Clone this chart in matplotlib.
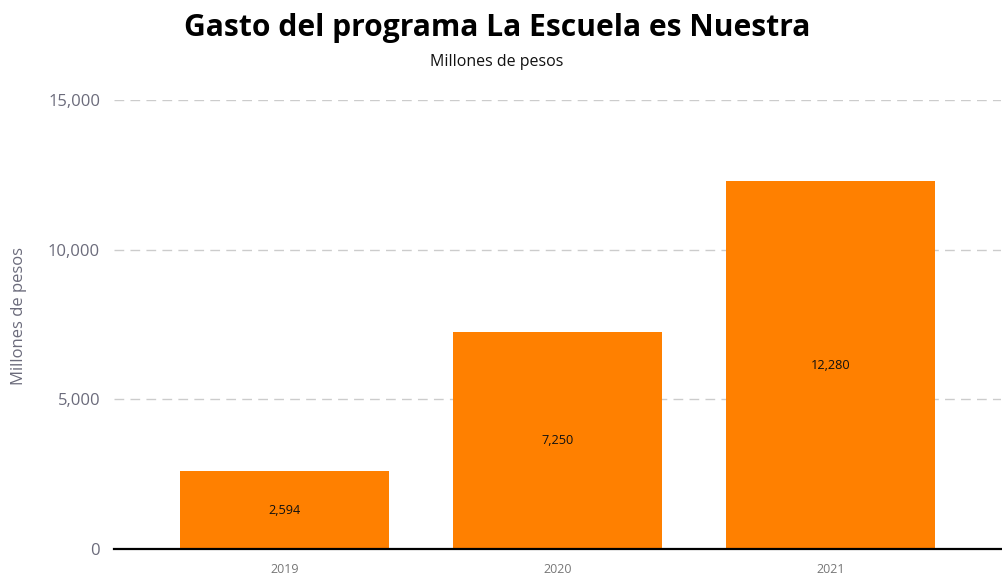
import matplotlib
matplotlib.use("Agg")
import matplotlib.pyplot as plt
from matplotlib.ticker import FuncFormatter

plt.rcParams["font.family"] = ["Open Sans", "DejaVu Sans"]

# ---------------------- Data ---------------------------
years = ["2019", "2020", "2021"]
gasto = [2594, 7250, 12280]
y_ticks = [0, 5000, 10000, 15000]

# ---------------------- Figure ---------------------------
fig = plt.figure(figsize=(10.02, 5.76), dpi=100)
ax = fig.add_axes([0.1138, 0.0469, 0.885, 0.7795])

x = range(len(years))
bars = ax.bar(x, gasto, width=0.765, color="#FF8000", zorder=2)

for xi, v in zip(x, gasto):
    ax.text(xi, v / 2, f"{v:,}", ha="center", va="center", fontsize=9.2, color="#111111")

ax.set_xlim(-0.624, 2.622)
ax.set_ylim(0, 15000)
ax.set_xticks(list(x))
ax.set_xticklabels(years, fontsize=9, color="#777777")
ax.set_yticks(y_ticks)
ax.yaxis.set_major_formatter(FuncFormatter(lambda v, p: f"{int(v):,}"))
ax.tick_params(axis="y", labelsize=12, colors="#6b6b7b", length=0, pad=10)
ax.tick_params(axis="x", length=0, pad=10)

# grid
ax.yaxis.grid(True, color="#cccccc", linestyle=(0, (7, 4.5)), linewidth=1, zorder=0)
ax.xaxis.grid(False)
for s in ["top", "right", "left"]:
    ax.spines[s].set_visible(False)
ax.spines["bottom"].set_color("black")
ax.spines["bottom"].set_linewidth(1.6)
ax.spines["bottom"].set_zorder(3)

ax.set_ylabel("Millones de pesos", fontsize=12, color="#6b6b7b")
ax.yaxis.set_label_coords(-0.098, 0.52)

# titles
fig.text(0.496, 0.951, "Gasto del programa La Escuela es Nuestra", ha="center", va="center",
         fontsize=21.6, fontweight="bold", color="black")
fig.text(0.496, 0.892, "Millones de pesos", ha="center", va="center", fontsize=11.5, color="#111111")

fig.savefig("out.png", dpi=100)
